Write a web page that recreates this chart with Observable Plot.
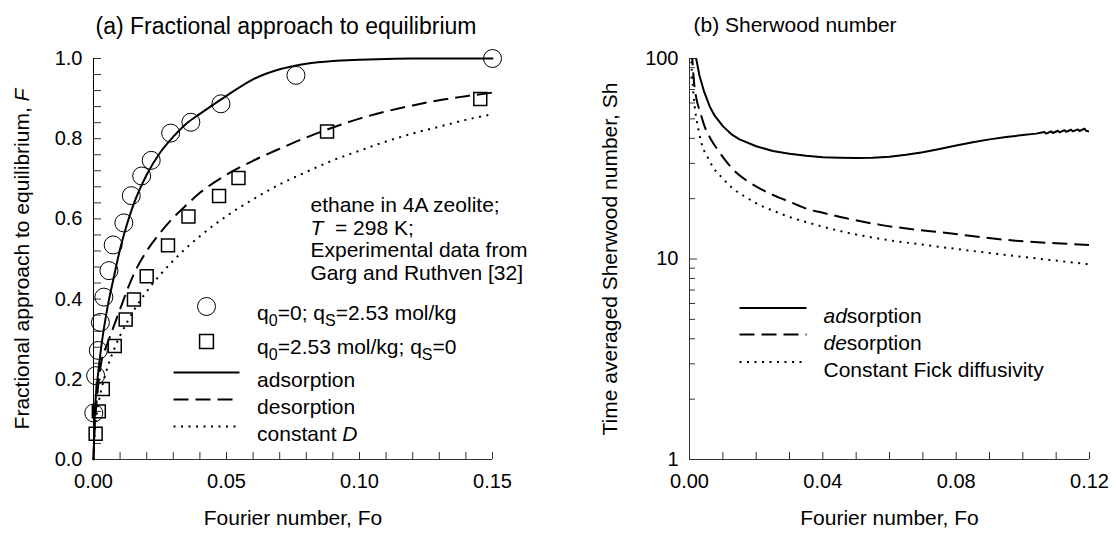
<!DOCTYPE html>
<html>
<head>
<meta charset="utf-8">
<script src="https://cdn.jsdelivr.net/npm/d3@7"></script>
<script src="https://cdn.jsdelivr.net/npm/@observablehq/plot@0.6"></script>
<style>
  html, body { margin: 0; padding: 0; background: #fff; }
  #wrap { display: flex; width: 1118px; height: 540px; }
</style>
</head>
<body>
<div id="wrap"></div>
<script>
// ---------- Panel (a): fractional approach to equilibrium ----------
const foCurveA = [0, 0.0005, 0.001, 0.002, 0.003, 0.005, 0.0075, 0.01, 0.0125, 0.015, 0.02, 0.025, 0.03, 0.035, 0.04, 0.05, 0.06, 0.07, 0.08, 0.09, 0.1, 0.11, 0.12, 0.13, 0.14, 0.15];
const fAdsorption = [0, 0.12, 0.165, 0.23, 0.285, 0.37, 0.45, 0.525, 0.585, 0.635, 0.71, 0.765, 0.805, 0.838, 0.862, 0.907, 0.948, 0.973, 0.987, 0.994, 0.997, 0.999, 1, 1, 1, 1];
const fDesorption = [0, 0.09, 0.13, 0.2, 0.245, 0.285, 0.33, 0.375, 0.42, 0.46, 0.52, 0.565, 0.603, 0.635, 0.665, 0.71, 0.745, 0.775, 0.803, 0.828, 0.85, 0.868, 0.883, 0.896, 0.906, 0.915];
const fConstantD = [0, 0.074, 0.104, 0.145, 0.176, 0.224, 0.271, 0.309, 0.341, 0.37, 0.419, 0.46, 0.496, 0.528, 0.557, 0.607, 0.649, 0.686, 0.717, 0.746, 0.77, 0.793, 0.813, 0.83, 0.847, 0.861];

const foAdsData = [0.0001, 0.0008, 0.0018, 0.0026, 0.0039, 0.0058, 0.0074, 0.0114, 0.0142, 0.0181, 0.0217, 0.029, 0.0366, 0.0479, 0.0761, 0.15];
const fAdsData  = [0.116, 0.209, 0.272, 0.342, 0.405, 0.471, 0.535, 0.590, 0.658, 0.707, 0.746, 0.814, 0.841, 0.887, 0.958, 1.0];
const foDesData = [0.0008, 0.002, 0.0035, 0.008, 0.0121, 0.0152, 0.020, 0.028, 0.0357, 0.0472, 0.0545, 0.0878, 0.1454];
const fDesData  = [0.064, 0.12, 0.176, 0.283, 0.349, 0.399, 0.457, 0.534, 0.606, 0.657, 0.702, 0.818, 0.899];

const xTicksA = [0, 0.05, 0.10, 0.15];
const xMinorA = [0, 0.01, 0.02, 0.03, 0.04, 0.05, 0.06, 0.07, 0.08, 0.09, 0.10, 0.11, 0.12, 0.13, 0.14, 0.15];
const yTicksA = [0, 0.2, 0.4, 0.6, 0.8, 1.0];
const yMinorA = [0, 0.04, 0.08, 0.12, 0.16, 0.2, 0.24, 0.28, 0.32, 0.36, 0.4, 0.44, 0.48, 0.52, 0.56, 0.6, 0.64, 0.68, 0.72, 0.76, 0.8, 0.84, 0.88, 0.92, 0.96, 1.0];

const titleA = "(a) Fractional approach to equilibrium";
const yLabelA = "Fractional approach to equilibrium, F";
const xLabel = "Fourier number, Fo";
const noteA = ["ethane in 4A zeolite;", "T = 298 K;", "Experimental data from", "Garg and Ruthven [32]"];
const legendSymA = ["q0=0; qS=2.53 mol/kg", "q0=2.53 mol/kg; qS=0"];
const legendLineA = ["adsorption", "desorption", "constant D"];

// ---------- Panel (b): Sherwood number ----------
const foAdsB = [0.0015, 0.002, 0.003, 0.0043, 0.006, 0.0075, 0.01, 0.0125, 0.015, 0.02, 0.025, 0.03, 0.035, 0.04, 0.045, 0.05, 0.055, 0.06, 0.065, 0.07, 0.075, 0.08, 0.085, 0.09, 0.095, 0.1, 0.104, 0.1065, 0.107, 0.1085, 0.109, 0.1105, 0.111, 0.1125, 0.113, 0.1145, 0.115, 0.1165, 0.117, 0.1185, 0.119, 0.12];
const shAdsB = [115, 100, 82, 69, 58, 52, 46, 42, 39.5, 36.5, 34.6, 33.5, 32.7, 32.2, 32.0, 31.9, 32.0, 32.4, 33.1, 34.1, 35.4, 36.8, 38.2, 39.5, 40.6, 41.5, 42.2, 43.0, 42.2, 43.3, 42.5, 43.6, 42.8, 43.9, 43.1, 44.1, 43.3, 44.3, 43.5, 44.7, 43.6, 43.2];
const foDesB = [0.0007, 0.001, 0.0013, 0.002, 0.0032, 0.0045, 0.0064, 0.0085, 0.0106, 0.0135, 0.017, 0.021, 0.0255, 0.03, 0.0361, 0.04, 0.0467, 0.0573, 0.068, 0.0786, 0.0892, 0.1, 0.11, 0.12];
const shDesB = [110, 90, 78, 64, 54, 46, 39.6, 35, 31.3, 27.5, 24.7, 22.5, 20.7, 19.3, 17.6, 17.0, 16.0, 14.8, 14.0, 13.4, 12.75, 12.25, 11.98, 11.75];
const foConB = [0.0004, 0.0006, 0.001, 0.0016, 0.0027, 0.004, 0.0053, 0.0075, 0.0096, 0.013, 0.017, 0.021, 0.0255, 0.03, 0.0361, 0.0467, 0.0573, 0.068, 0.0786, 0.0892, 0.0998, 0.1104, 0.12];
const shConB = [115, 94, 73, 57, 44, 36, 32.5, 28, 25.6, 22.5, 20.3, 18.6, 17.3, 16.2, 15.1, 13.6, 12.6, 11.9, 11.3, 10.75, 10.25, 9.8, 9.4];

const xTicksB = [0, 0.04, 0.08, 0.12];
const xMinorB = [0, 0.01, 0.02, 0.03, 0.04, 0.05, 0.06, 0.07, 0.08, 0.09, 0.10, 0.11, 0.12];
const yTicksB = [1, 10, 100];
const yMinorB = [2, 3, 4, 5, 6, 7, 8, 9, 20, 30, 40, 50, 60, 70, 80, 90];

const titleB = "(b) Sherwood number";
const yLabelB = "Time averaged Sherwood number, Sh";
const legendLineB = ["adsorption", "desorption", "Constant Fick diffusivity"];

// ---------- tables ----------
const curveA = foCurveA.map((fo, i) => ({fo, ads: fAdsorption[i], des: fDesorption[i], con: fConstantD[i]}));
const adsPts = foAdsData.map((fo, i) => ({fo, f: fAdsData[i]}));
const desPts = foDesData.map((fo, i) => ({fo, f: fDesData[i]}));
const adsB = foAdsB.map((fo, i) => ({fo, sh: shAdsB[i]}));
const desB = foDesB.map((fo, i) => ({fo, sh: shDesB[i]}));
const conB = foConB.map((fo, i) => ({fo, sh: shConB[i]}));

// ---------- styles ----------
const FONT = "'Liberation Sans', Arial, Helvetica, sans-serif";
const AX = "#333";
const DASH = "15,7";
const DOT = "2,5.5";
const hLine = {draw(ctx, l) { ctx.moveTo(0, 0); ctx.lineTo(0, -l); }};

function legendLine(dx, dy, len, dash) {
  return Plot.vector([0], {frameAnchor: "top-left", dx, dy, length: len, rotate: 90, anchor: "start",
    shape: hLine, stroke: "black", strokeWidth: 2, strokeLinecap: "butt", strokeDasharray: dash});
}
function label(txt, opts) {
  return Plot.text([txt], {text: d => d, fontSize: 21, fill: "black", ...opts});
}

// ---------- panel (a) ----------
const W = 559, H = 540;
const mA = {l: 93, r: 67, t: 58, b: 81};
const fwA = W - mA.l - mA.r, fhA = H - mA.t - mA.b;
const plotA = Plot.plot({
  width: W, height: H,
  marginLeft: mA.l, marginRight: mA.r, marginTop: mA.t, marginBottom: mA.b,
  x: {domain: [0, 0.15]},
  y: {domain: [0, 1]},
  style: {fontFamily: FONT, fontSize: "20px", background: "white", color: "black", overflow: "visible"},
  marks: [
    Plot.tickY(yMinorA, {y: d => d, insetRight: fwA - 8, stroke: AX}),
    Plot.tickX(xMinorA, {x: d => d, insetTop: fhA - 7, stroke: AX}),
    Plot.ruleY([0], {stroke: AX}),
    Plot.ruleX([0], {stroke: "black"}),
    Plot.axisY(yTicksA, {tickSize: 0, tickPadding: 11, tickFormat: d3.format(".1f"), label: null, fontSize: 20}),
    Plot.axisX(xTicksA, {tickSize: 0, tickPadding: 14, tickFormat: d3.format(".2f"), label: null, fontSize: 20}),
    Plot.line(curveA, {x: "fo", y: "con", curve: "monotone-x", stroke: "black", strokeWidth: 2, strokeDasharray: DOT, strokeLinecap: "butt"}),
    Plot.line(curveA, {x: "fo", y: "des", curve: "monotone-x", stroke: "black", strokeWidth: 2, strokeDasharray: DASH, strokeLinecap: "butt"}),
    Plot.line(curveA, {x: "fo", y: "ads", curve: "monotone-x", stroke: "black", strokeWidth: 2}),
    Plot.dot(adsPts, {x: "fo", y: "f", r: 9, stroke: "black", strokeWidth: 1, fill: "none"}),
    Plot.dot(desPts, {x: "fo", y: "f", symbol: "square", r: 7.3, stroke: "black", strokeWidth: 1.5, fill: "none"}),
    label(titleA, {frameAnchor: "top-left", dx: 2, dy: -41, textAnchor: "start", fontSize: 23}),
    label(yLabelA, {frameAnchor: "left", dx: -71, rotate: -90, textAnchor: "middle"}),
    label(xLabel, {frameAnchor: "bottom", dy: 65}),
    ...noteA.map((t, i) => label(t, {frameAnchor: "top-left", dx: 217, dy: 138.6 + i * 22.5, textAnchor: "start"})),
    Plot.dot([0], {frameAnchor: "top-left", dx: 113, dy: 248, r: 9, stroke: "black", strokeWidth: 1, fill: "none"}),
    Plot.dot([0], {frameAnchor: "top-left", dx: 113, dy: 283, symbol: "square", r: 7.8, stroke: "black", strokeWidth: 1.5, fill: "none"}),
    label(legendSymA[0], {frameAnchor: "top-left", dx: 163.6, dy: 247, textAnchor: "start"}),
    label(legendSymA[1], {frameAnchor: "top-left", dx: 163.6, dy: 281, textAnchor: "start"}),
    legendLine(80, 314, 66, null),
    legendLine(80, 341, 66, DASH),
    legendLine(80, 368, 66, DOT),
    ...legendLineA.map((t, i) => label(t, {frameAnchor: "top-left", dx: 163.6, dy: 314 + i * 27, textAnchor: "start"}))
  ]
});

// ---------- panel (b) ----------
const mB = {l: 130, r: 29, t: 58, b: 81};
const fwB = W - mB.l - mB.r, fhB = H - mB.t - mB.b;
const plotB = Plot.plot({
  width: W, height: H,
  marginLeft: mB.l, marginRight: mB.r, marginTop: mB.t, marginBottom: mB.b,
  x: {domain: [0, 0.12]},
  y: {type: "log", domain: [1, 100]},
  style: {fontFamily: FONT, fontSize: "20px", background: "white", color: "black", overflow: "visible"},
  marks: [
    Plot.tickY(yMinorB, {y: d => d, insetRight: fwB - 6, stroke: AX}),
    Plot.tickY(yTicksB, {y: d => d, insetRight: fwB - 8, stroke: AX}),
    Plot.tickX(xMinorB, {x: d => d, insetTop: fhB - 7, stroke: AX}),
    Plot.ruleY([1], {stroke: AX}),
    Plot.ruleX([0], {stroke: AX}),
    Plot.axisY(yTicksB, {tickSize: 0, tickPadding: 11, tickFormat: d3.format("d"), label: null, fontSize: 20}),
    Plot.axisX(xTicksB, {tickSize: 0, tickPadding: 14, tickFormat: d3.format(".2f"), label: null, fontSize: 20}),
    Plot.line(conB, {x: "fo", y: "sh", curve: "monotone-x", stroke: "black", strokeWidth: 2, strokeDasharray: DOT, strokeLinecap: "butt", clip: true}),
    Plot.line(desB, {x: "fo", y: "sh", curve: "monotone-x", stroke: "black", strokeWidth: 2, strokeDasharray: DASH, strokeLinecap: "butt", clip: true}),
    Plot.line(adsB, {x: "fo", y: "sh", stroke: "black", strokeWidth: 2, clip: true}),
    label(titleB, {frameAnchor: "top-left", dx: 4, dy: -41, textAnchor: "start"}),
    label(yLabelB, {frameAnchor: "left", dx: -79, rotate: -90, textAnchor: "middle"}),
    label(xLabel, {frameAnchor: "bottom", dy: 65}),
    legendLine(50, 249.6, 67, null),
    legendLine(50, 276, 67, DASH),
    legendLine(50, 303.5, 67, DOT),
    ...legendLineB.map((t, i) => label(t, {frameAnchor: "top-left", dx: 134, dy: 249.6 + i * 27, textAnchor: "start"}))
  ]
});

// ---------- rich text (italics, subscripts) ----------
const richA = {
  "Fractional approach to equilibrium, F": [["Fractional approach to equilibrium, "], ["F", "i"]],
  "T = 298 K;": [["T", "i"], ["\u00a0 = 298 K;"]],
  "q0=0; qS=2.53 mol/kg": [["q"], ["0", "sub"], ["=0; q"], ["S", "sub"], ["=2.53 mol/kg"]],
  "q0=2.53 mol/kg; qS=0": [["q"], ["0", "sub"], ["=2.53 mol/kg; q"], ["S", "sub"], ["=0"]],
  "constant D": [["constant "], ["D", "i"]]
};
const richB = {
  "adsorption": [["ad", "i"], ["sorption"]],
  "desorption": [["de", "i"], ["sorption"]]
};
function richify(svg, specs) {
  svg.querySelectorAll("text").forEach(t => {
    const spec = specs[t.textContent];
    if (!spec) return;
    while (t.firstChild) t.removeChild(t.firstChild);
    let shift = 0;
    for (const [s, st] of spec) {
      const ts = document.createElementNS("http://www.w3.org/2000/svg", "tspan");
      ts.textContent = s;
      if (st === "i") ts.setAttribute("font-style", "italic");
      if (st === "sub") {
        ts.setAttribute("font-size", "16");
        ts.setAttribute("dy", String(6 - shift));
        shift = 6;
      } else if (shift) {
        ts.setAttribute("dy", String(-shift));
        shift = 0;
      }
      t.appendChild(ts);
    }
  });
}
richify(plotA, richA);
richify(plotB, richB);

const wrap = document.getElementById("wrap");
wrap.appendChild(plotA);
wrap.appendChild(plotB);
</script>
</body>
</html>
